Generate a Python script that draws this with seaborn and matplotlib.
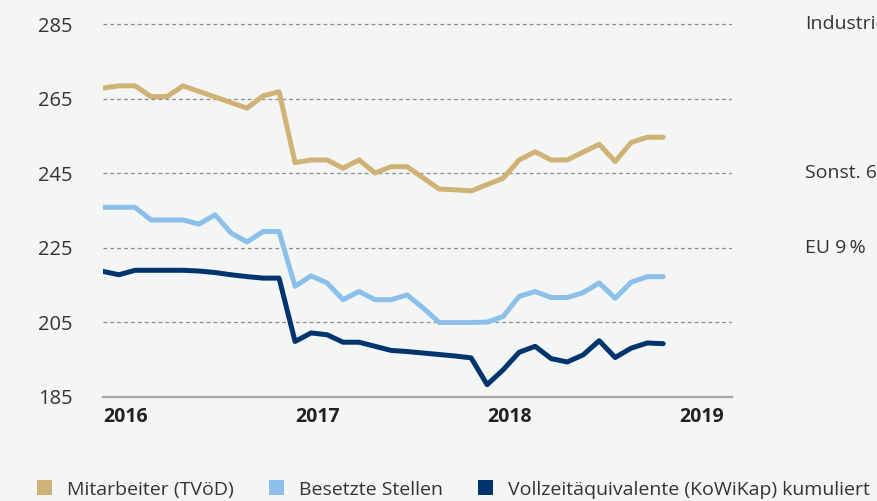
import pandas as pd
import seaborn as sns
import matplotlib.pyplot as plt
from matplotlib.patches import Patch
from matplotlib.transforms import blended_transform_factory

# Monatswerte Jan 2016 .. Dez 2018
monate = list(range(36))
mitarbeiter = [267.9, 268.5, 268.5, 265.6, 265.6, 268.5, 267.0, 265.5, 264.0, 262.5, 265.8, 266.9,
               247.9, 248.6, 248.6, 246.4, 248.6, 245.1, 246.8, 246.8, 243.8, 240.8, 240.6, 240.3,
               242.0, 243.7, 248.6, 250.8, 248.6, 248.6, 250.7, 252.8, 248.2, 253.3, 254.7, 254.7]
besetzt = [235.9, 235.9, 235.9, 232.5, 232.5, 232.5, 231.4, 233.9, 229.0, 226.6, 229.4, 229.4,
           214.7, 217.5, 215.6, 211.1, 213.3, 211.1, 211.1, 212.4, 208.9, 205.0, 205.0, 205.0,
           205.1, 206.6, 212.0, 213.3, 211.7, 211.7, 213.0, 215.6, 211.5, 215.8, 217.3, 217.3]
vze = [218.7, 217.8, 219.0, 219.0, 219.0, 219.0, 218.8, 218.4, 217.8, 217.3, 216.9, 216.9,
       199.9, 202.2, 201.7, 199.7, 199.7, 198.6, 197.5, 197.2, 196.8, 196.4, 196.0, 195.5,
       188.3, 192.3, 197.0, 198.6, 195.3, 194.4, 196.3, 200.1, 195.6, 198.1, 199.5, 199.3]

namen = ["Mitarbeiter (TVöD)", "Besetzte Stellen", "Vollzeitäquivalente (KoWiKap) kumuliert"]
farben = ["#cfb276", "#8cbfea", "#00346e"]

jahr_ticks = [0, 12, 24, 36]
jahr_labels = ["2016", "2017", "2018", "2019"]
y_ticks = [185, 205, 225, 245, 265, 285]

seiten_texte = ["Industrie", "Sonst. 6", "EU 9\u2009%"]
seiten_y = [285, 245, 225]

# Long-Format fuer seaborn
df = pd.concat([
    pd.DataFrame({"monat": monate, "wert": werte, "reihe": name})
    for name, werte in zip(namen, [mitarbeiter, besetzt, vze])
])

bg = "#f4f6f5"
sns.set_theme(style="white")
plt.rcParams["font.family"] = ["Open Sans", "DejaVu Sans"]

fig = plt.figure(figsize=(8.78, 5.01), dpi=100, facecolor=bg)
ax = fig.add_axes([103 / 878, 1 - 397 / 501, 629 / 878, (397 - 23.2) / 501])
ax.set_facecolor(bg)

sns.lineplot(data=df, x="monat", y="wert", hue="reihe", palette=dict(zip(namen, farben)),
             linewidth=3.6, legend=False, ax=ax, zorder=3,
             solid_capstyle="round")

ax.set_xlim(0, 39.3)
ax.set_ylim(185, 285.3)
ax.set_xlabel("")
ax.set_ylabel("")

ax.set_yticks(y_ticks)
ax.set_yticklabels([str(t) for t in y_ticks], fontsize=14.5, color="#333333")
ax.set_xticks(jahr_ticks)
ax.set_xticklabels(jahr_labels, fontsize=14, fontweight="bold", color="#222222", ha="left")
ax.tick_params(axis="y", length=0, pad=22)
ax.tick_params(axis="x", length=0, pad=7)

ax.set_axisbelow(True)
ax.yaxis.grid(True, color="#8a8a8a", linestyle=(0, (3, 2.5)), linewidth=0.9)
ax.xaxis.grid(False)
for s in ["top", "right", "left"]:
    ax.spines[s].set_visible(False)
ax.spines["bottom"].set_color("#a5a5a5")
ax.spines["bottom"].set_linewidth(1.6)
ax.spines["bottom"].set_zorder(4)

# Beschriftungen rechts (im Original angeschnitten)
trans = blended_transform_factory(fig.transFigure, ax.transData)
for txt, yv in zip(seiten_texte, seiten_y):
    ax.text(805 / 878, yv, txt, transform=trans,
            fontsize=14, color="#333333", va="center", ha="left", clip_on=False)

# Legende
handles = [Patch(facecolor=c, edgecolor="none", label=n) for n, c in zip(namen, farben)]
fig.legend(handles=handles, loc="center left", bbox_to_anchor=(0.0335, 1 - 489.5 / 501), ncol=3,
           frameon=False, handlelength=0.77, handleheight=0.77, handletextpad=0.77,
           columnspacing=1.8, borderaxespad=0, fontsize=14,
           labelcolor="#333333")

fig.savefig("out.png", dpi=100, facecolor=bg)
